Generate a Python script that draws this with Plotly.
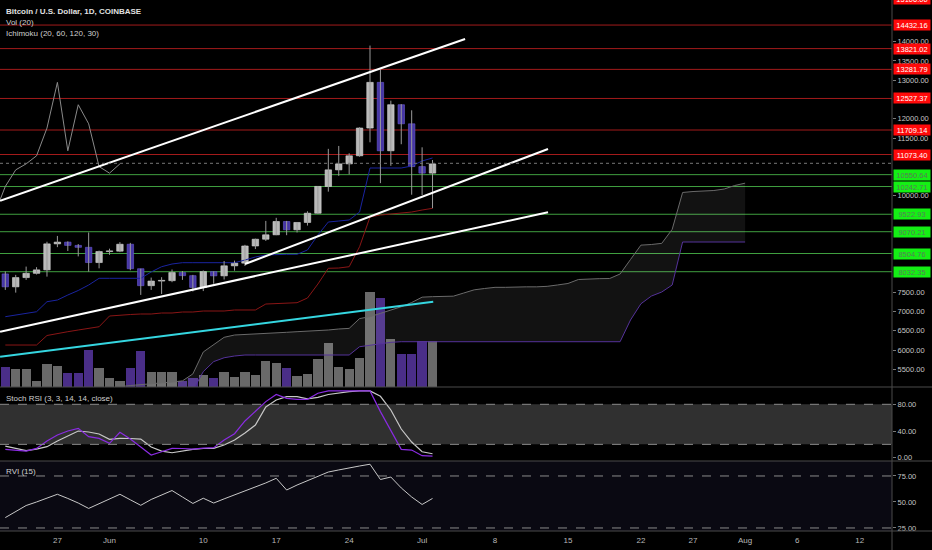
import pandas as pd
import plotly.graph_objects as go

# ---------------- data ----------------
dates = pd.date_range("2019-05-22", "2019-07-02", freq="D")
opens = [7975,7640,7880,7990,8080,8755,8800,8715,8665,8270,8555,8565,8745,8110,7670,7790,7800,8010,7930,7625,
         8035,7925,8185,8255,8700,8875,8990,9335,9120,9310,9550,10245,10675,10830,11040,11760,12945,11170,12365,11870,
         10760,10590]
highs = [8040,7950,8165,8150,8810,8960,8820,8750,9050,8580,8630,8800,8780,8110,7880,7890,8090,8050,7950,8065,
         8040,8310,8320,8730,8890,9350,9430,9350,9320,9600,10250,11220,11295,11105,11780,13900,13275,12470,12380,12220,
         11260,10930]
lows = [7560,7490,7820,7960,7905,8670,8570,8430,8035,8120,8470,8540,8070,7430,7560,7455,7760,7820,7520,7530,
        7720,7830,8060,8180,8620,8830,8980,8980,9050,9230,9540,10110,10520,10560,11015,11390,10330,10780,11340,10030,
        10020,9680]
closes = [7640,7880,7990,8080,8755,8800,8715,8665,8270,8555,8565,8745,8110,7670,7790,7800,8010,7930,7625,8035,
          7925,8185,8255,8700,8875,8990,9335,9120,9310,9550,10245,10675,10830,11040,11760,12945,11170,12365,11870,10760,
          10590,10830]
volumes = [6600,5840,5840,1980,7490,7030,4620,4620,12110,6370,2870,2080,6370,11780,5050,4850,4850,2080,2870,3860,
           3070,4850,3300,4850,3860,8680,7920,6370,3530,4390,9240,14620,6600,5840,9470,31450,29470,15940,10790,10790,
           15180,15180]
conversion = [6865,6909,6961,6994,7254,7298,7428,7545,7687,7861,7861,7861,7861,7861,8025,8162,8232,8266,8266,8266,
              8266,8266,8266,8336,8414,8466,8484,8484,8484,8596,8985,9322,9348,9374,9581,10723,10723,10723,10723,10775,
              10905,10983]
base_line = [6130,6130,6130,6130,6377,6434,6476,6520,6559,6605,6883,6909,6922,6935,6935,6961,6961,6987,6987,7013,
             7013,7013,7039,7039,7039,7194,7207,7220,7228,7350,7713,8121,8128,8162,8681,9452,9503,9529,9555,9581,
             9633,9677]
lag_days = 30

cloud_dates = pd.date_range("2019-06-01", "2019-08-01", freq="D")
span_a = [4950,5050,5080,5100,5120,5150,5170,5200,5380,5950,6150,6330,6390,6400,6420,6430,6440,6460,6476,6490,
          6498,6520,6546,6562,6816,6866,6952,7033,7123,7233,7372,7385,7392,7398,7480,7562,7597,7627,7627,7640,
          7640,7640,7653,7688,7727,7830,7846,7852,7856,7973,8349,8722,8738,8768,9131,10088,10113,10126,10139,10178,
          10269,10330]
span_b = [4900]*8 + [4950,5440,5700,5800,5845] + [5871]*11 + [6086,6130,6170,6200,6216,6216] + [6216]*20 + \
         [6779,7200,7400,7506,7687] + [8803]*7

stoch_k = [12.6,10.8,10,14,25,34,40,44,31.5,29,21.6,38,28,16,4,9,14,13.8,13,14.5,
           15,26.5,36,55,70,84,94.7,89,87.5,87.5,96.5,100,100,100,100,100,69,41.5,12.6,11.5,3,2.5]
stoch_d = [17.5,13.8,10.5,13,16.5,25,32.5,40,38.5,35.5,27.6,29,28.8,28,16,10,7.5,10,12.6,13.8,
           14,19,26.5,37,49,76,86.5,91.4,91.4,88,90.5,94.7,97,99,100,100,92,71.5,43,23.5,9,6]
rvi = [35,41,46.6,50,53.8,57.4,53.4,49,43.8,48.6,53,57.4,52.1,46.8,52.4,56.7,61,54.8,48.6,53.6,
       49,53,56.7,60.6,64.4,68.3,72.8,61.5,66.3,70.7,74.5,78.8,80.8,83,84.6,86.3,71.6,74,63.5,54.8,47.6,53.4]

red_levels = [14432.16, 13821.02, 13281.79, 12527.37, 11709.14, 11073.40]
green_levels = [10550.64, 10242.71, 9522.93, 9070.21, 8504.76, 8032.35]
top_cut_label = "15106.00"
last_price = 10845

trend_upper_x = ["2019-05-21 12:00", "2019-07-05 03:00"]; trend_upper_y = [9875, 14070]
trend_mid_x = ["2019-06-14 00:00", "2019-07-13 02:00"]; trend_mid_y = [8232, 11216]
trend_low_x = ["2019-05-21 12:00", "2019-07-13 02:00"]; trend_low_y = [6476, 9576]
trend_cyan_x = ["2019-05-21 12:00", "2019-07-02 01:40"]; trend_cyan_y = [5827, 7254]

x_tickvals = ["2019-05-27","2019-06-01","2019-06-10","2019-06-17","2019-06-24","2019-07-01","2019-07-08",
              "2019-07-15","2019-07-22","2019-07-27","2019-08-01","2019-08-06","2019-08-12"]
x_ticktext = ["27","Jun","10","17","24","Jul","8","15","22","27","Aug","6","12"]
price_ticks = [5500,6000,6500,7000,7500,10000,11500,12000,13000,13500,14000]

# ---------------- figure ----------------
W, H = 932, 550
PH = 531.0
def py(pix):
    return (PH - pix) / PH

GRAY_C = "#b8b8b8"
PURP_C = "#4636a6"
up = [c >= o for o, c in zip(opens, closes)]

fig = go.Figure()

# volume (base axis y, hidden)
fig.add_trace(go.Bar(x=dates, y=volumes, xaxis="x", yaxis="y",
                     marker=dict(color=["#696969" if u else "#4a2e88" for u in up], line=dict(width=0)),
                     width=0.89*86400000))

# cloud
fig.add_trace(go.Scatter(x=cloud_dates, y=span_b, xaxis="x", yaxis="y2", mode="lines",
                         line=dict(color="#55329a", width=1)))
fig.add_trace(go.Scatter(x=cloud_dates, y=span_a, xaxis="x", yaxis="y2", mode="lines",
                         line=dict(color="#6a6a6a", width=1), fill="tonexty",
                         fillcolor="rgba(255,255,255,0.07)"))

# ichimoku lines
fig.add_trace(go.Scatter(x=dates, y=base_line, xaxis="x", yaxis="y2", mode="lines",
                         line=dict(color="#8a1616", width=1)))
fig.add_trace(go.Scatter(x=dates, y=conversion, xaxis="x", yaxis="y2", mode="lines",
                         line=dict(color="#1a24a0", width=1)))
fig.add_trace(go.Scatter(x=dates - pd.Timedelta(days=lag_days), y=closes, xaxis="x", yaxis="y2", mode="lines",
                         line=dict(color="#8a8a8a", width=1)))

# candles: wicks
wx, wy = [], []
for d, h, l in zip(dates, highs, lows):
    wx += [d, d, None]; wy += [l, h, None]
fig.add_trace(go.Scatter(x=wx, y=wy, xaxis="x", yaxis="y2", mode="lines",
                         line=dict(color="#9a9a9a", width=1)))
# candles: bodies
body_base = [min(o, c) for o, c in zip(opens, closes)]
body_h = [max(abs(c - o), 18) for o, c in zip(opens, closes)]
fig.add_trace(go.Bar(x=dates, y=body_h, base=body_base, xaxis="x", yaxis="y2",
                     width=0.62*86400000,
                     marker=dict(color=[GRAY_C if u else PURP_C for u in up],
                                 line=dict(color=["#d8d8d8" if u else "#6a5ad0" for u in up], width=0.6))))

# trend lines
for tx, ty, col, w in [(trend_upper_x, trend_upper_y, "#ffffff", 2), (trend_mid_x, trend_mid_y, "#ffffff", 2),
                       (trend_low_x, trend_low_y, "#ffffff", 2), (trend_cyan_x, trend_cyan_y, "#35d6e0", 2)]:
    fig.add_trace(go.Scatter(x=tx, y=ty, xaxis="x", yaxis="y2", mode="lines", line=dict(color=col, width=w)))

# stoch rsi
fig.add_trace(go.Scatter(x=dates, y=stoch_d, xaxis="x", yaxis="y3", mode="lines",
                         line=dict(color="#c8c8c8", width=1.2)))
fig.add_trace(go.Scatter(x=dates, y=stoch_k, xaxis="x", yaxis="y3", mode="lines",
                         line=dict(color="#8a2be2", width=1.2)))
# rvi
fig.add_trace(go.Scatter(x=dates, y=rvi, xaxis="x", yaxis="y4", mode="lines",
                         line=dict(color="#c8c8c8", width=1)))

shapes = []
# rvi background
shapes.append(dict(type="rect", xref="paper", yref="paper", x0=0, x1=1, y0=0, y1=py(461),
                   fillcolor="#0a0912", line=dict(width=0), layer="below"))
# stoch band
shapes.append(dict(type="rect", xref="paper", yref="y3", x0=0, x1=1, y0=20, y1=80,
                   fillcolor="#303030", line=dict(width=0), layer="below"))
for v in (20, 80):
    shapes.append(dict(type="line", xref="paper", yref="y3", x0=0, x1=1, y0=v, y1=v,
                       line=dict(color="#8a8a8a", width=1, dash="dash")))
for v in (25, 75):
    shapes.append(dict(type="line", xref="paper", yref="y4", x0=0, x1=1, y0=v, y1=v,
                       line=dict(color="#8a8a8a", width=1, dash="dash")))
# S/R levels
for lv in red_levels:
    shapes.append(dict(type="line", xref="paper", yref="y2", x0=0, x1=1, y0=lv, y1=lv,
                       line=dict(color="#a31b1b", width=1), layer="below"))
for lv in green_levels:
    shapes.append(dict(type="line", xref="paper", yref="y2", x0=0, x1=1, y0=lv, y1=lv,
                       line=dict(color="#3f9f3f", width=1), layer="below"))
shapes.append(dict(type="line", xref="paper", yref="y2", x0=0, x1=1, y0=last_price, y1=last_price,
                   line=dict(color="#777777", width=1, dash="dot")))
# separators
xr = W / (W - 40)
for pix in (387, 461, 531):
    shapes.append(dict(type="line", xref="paper", yref="paper", x0=0, x1=xr, y0=py(pix), y1=py(pix),
                       line=dict(color="#4a4a4a", width=1)))
shapes.append(dict(type="line", xref="paper", yref="paper", x0=1, x1=1, y0=py(550), y1=1,
                   line=dict(color="#4a4a4a", width=1)))

annotations = []
lab_font = "Liberation Sans"
for lv in red_levels:
    annotations.append(dict(xref="paper", yref="y2", x=1, y=lv, xanchor="left", xshift=1, showarrow=False,
                            text=f"{lv:.2f}", bgcolor="#ff0a0a", font=dict(color="#ffffff", size=7.5, family=lab_font),
                            width=36, height=10, borderpad=0))
for lv in green_levels:
    annotations.append(dict(xref="paper", yref="y2", x=1, y=lv, xanchor="left", xshift=1, showarrow=False,
                            text=f"{lv:.2f}", bgcolor="#14f014", font=dict(color="#5a7a5a", size=7.5, family=lab_font),
                            width=36, height=10, borderpad=0))
annotations.append(dict(xref="paper", yref="paper", x=1, y=py(-1.5), xanchor="left", yanchor="middle", xshift=1,
                        showarrow=False, text=top_cut_label, bgcolor="#ff0a0a",
                        font=dict(color="#ffffff", size=7.5, family=lab_font), width=36, height=10, borderpad=0))
legend_lines = [("<b>Bitcoin / U.S. Dollar, 1D, COINBASE</b>", 11.7, "#e0e0e0"), ("Vol (20)", 22.7, "#cfcfcf"),
                ("Ichimoku (20, 60, 120, 30)", 33.3, "#cfcfcf"),
                ("Stoch RSI (3, 3, 14, 14, close)", 398, "#cfcfcf"), ("RVI (15)", 471.7, "#cfcfcf")]
for txt, pix, col in legend_lines:
    annotations.append(dict(xref="paper", yref="paper", x=0, y=py(pix), xanchor="left", yanchor="middle",
                            xshift=4, showarrow=False, text=txt,
                            font=dict(color=col, size=8, family=lab_font)))

axfont = dict(color="#c4c4c4", size=7.5, family=lab_font)
fig.update_layout(
    width=W, height=H, margin=dict(l=0, r=40, t=0, b=19),
    paper_bgcolor="#000000", plot_bgcolor="#000000", showlegend=False, bargap=0,
    barmode="overlay", hovermode=False,
    xaxis=dict(type="date", range=["2019-05-21 11:47", "2019-08-15 02:18"], domain=[0, 1], anchor="y4",
               tickvals=x_tickvals, ticktext=x_ticktext, tickfont=dict(color="#b8b8b8", size=8, family=lab_font),
               showgrid=False, zeroline=False, showline=False, ticks="", ticklabelstandoff=3),
    yaxis=dict(domain=[py(387), 1], range=[0, 127710], visible=False, showgrid=False, zeroline=False),
    yaxis2=dict(overlaying="y", side="right", anchor="x", range=[5041, 15082], tickvals=price_ticks,
                tickformat=".2f", ticks="outside", ticklen=3, tickcolor="#7a7a7a", tickfont=axfont,
                showgrid=False, zeroline=False, showline=False),
    yaxis3=dict(domain=[py(461), py(387)], range=[-4.9, 105.9], side="right", anchor="x", tickvals=[0, 40, 80],
                tickformat=".2f", ticks="outside", ticklen=3, tickcolor="#7a7a7a", tickfont=axfont,
                showgrid=False, zeroline=False, showline=False),
    yaxis4=dict(domain=[0, py(461)], range=[22.1, 89.4], side="right", anchor="x", tickvals=[25, 50, 75],
                tickformat=".2f", ticks="outside", ticklen=3, tickcolor="#7a7a7a", tickfont=axfont,
                showgrid=False, zeroline=False, showline=False),
    shapes=shapes, annotations=annotations,
)
fig.write_html("out.html", config={"displayModeBar": False, "staticPlot": True},
               post_script="document.body.style.margin='0';document.body.style.background='#000';"
                           "document.body.style.overflow='hidden';")
